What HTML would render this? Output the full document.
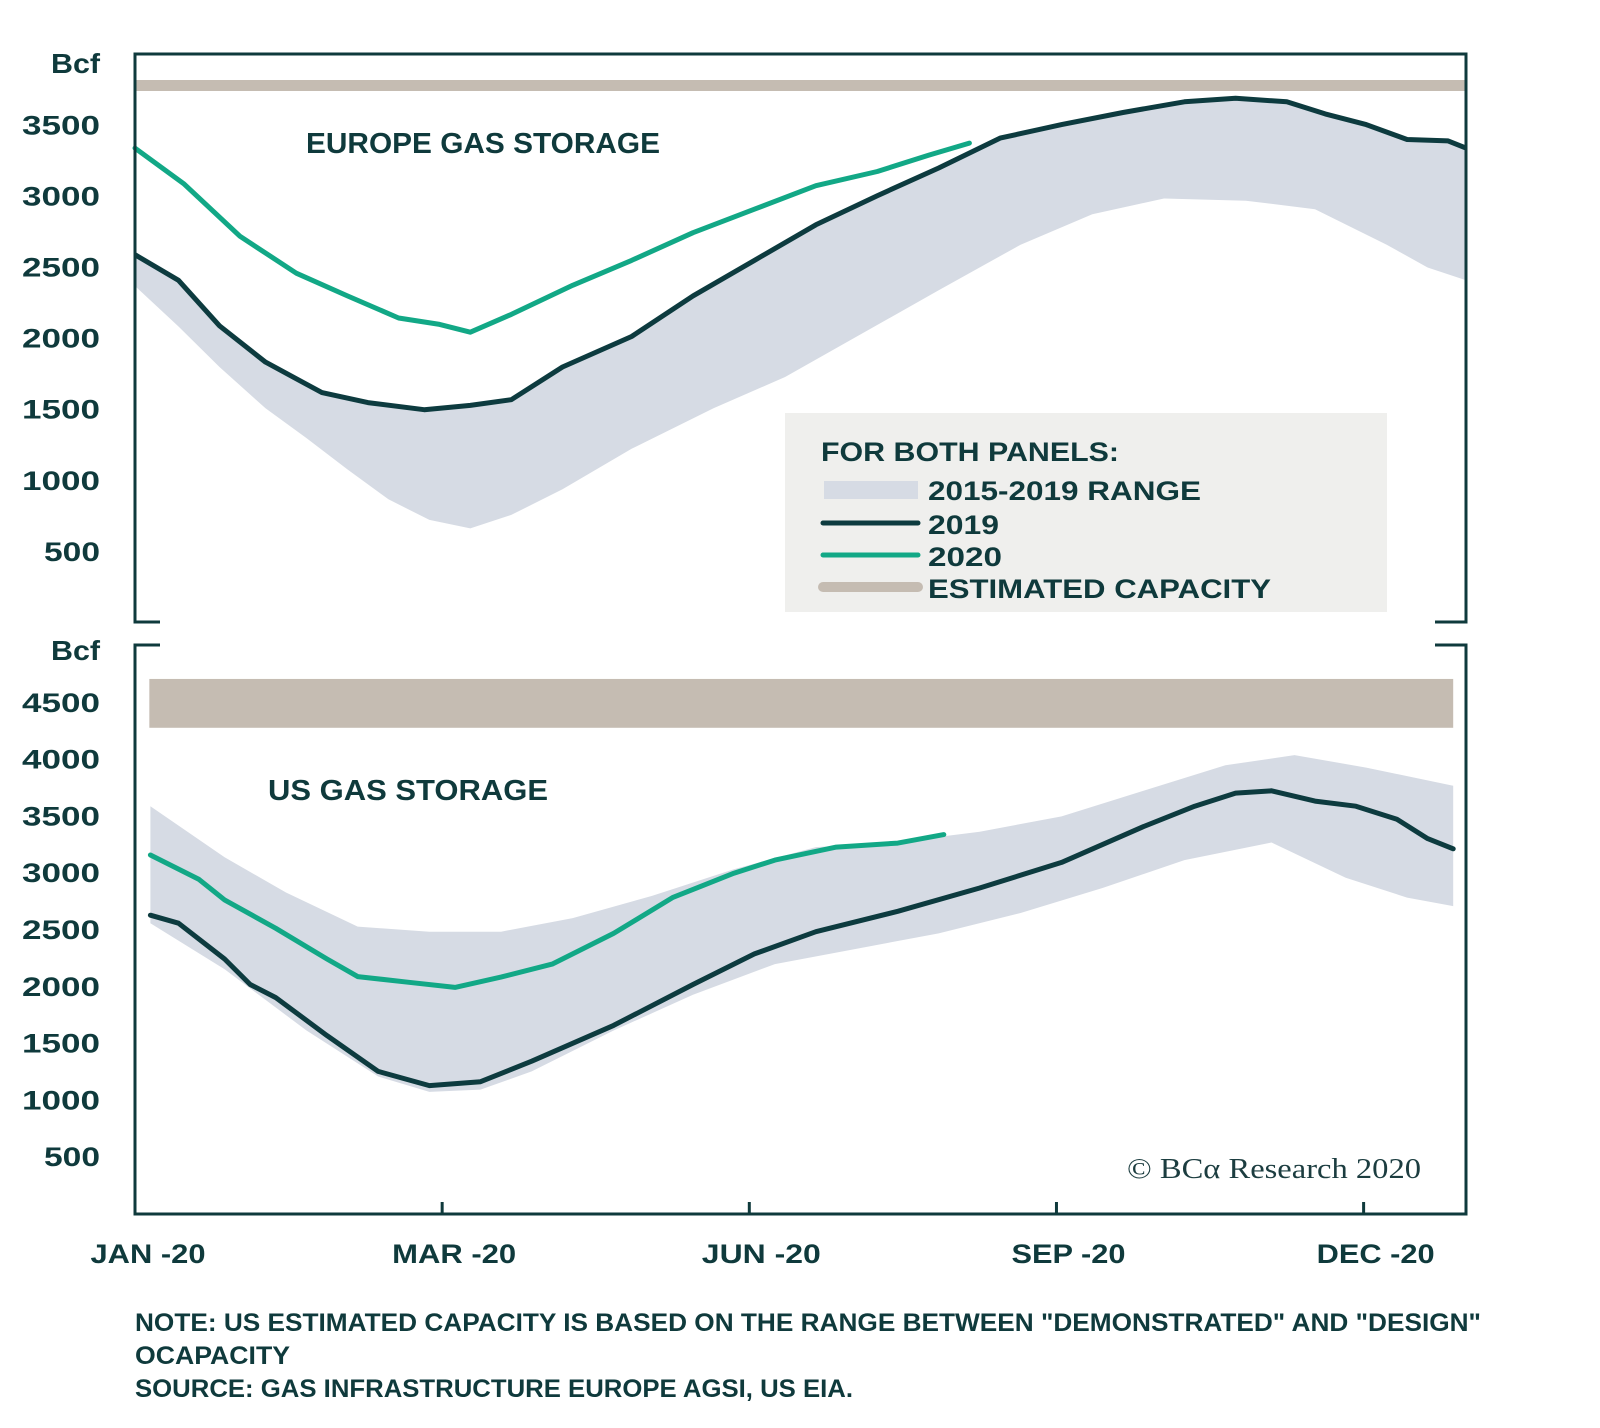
<!DOCTYPE html>
<html><head><meta charset="utf-8"><style>
html,body{margin:0;padding:0;background:#fff;}
svg{display:block;font-family:"Liberation Sans",sans-serif;}
</style></head><body>
<svg id="chart" width="1600" height="1428" viewBox="0 0 1600 1428" xmlns="http://www.w3.org/2000/svg">
<g id="gtop"></g>
<g id="gbot"></g>
<g>
<rect x="785" y="413" width="602" height="199" fill="#efefed"/>
<text x="821" y="461" font-size="27" font-weight="bold" fill="#0f3a3c" textLength="298" lengthAdjust="spacingAndGlyphs">FOR BOTH PANELS:</text>
<rect x="824" y="481" width="94" height="18" fill="#d6dbe4"/>
<text x="928" y="500" font-size="27" font-weight="bold" fill="#0f3a3c" textLength="273" lengthAdjust="spacingAndGlyphs">2015-2019 RANGE</text>
<line x1="823" y1="523" x2="918" y2="523" stroke="#0d3b3f" stroke-width="5" stroke-linecap="round"/>
<text x="928" y="534" font-size="27" font-weight="bold" fill="#0f3a3c" textLength="71" lengthAdjust="spacingAndGlyphs">2019</text>
<line x1="823" y1="555" x2="918" y2="555" stroke="#12a886" stroke-width="5" stroke-linecap="round"/>
<text x="928" y="566" font-size="27" font-weight="bold" fill="#0f3a3c" textLength="74" lengthAdjust="spacingAndGlyphs">2020</text>
<line x1="823" y1="587" x2="918" y2="587" stroke="#c5bcb2" stroke-width="10" stroke-linecap="round"/>
<text x="928" y="598" font-size="27" font-weight="bold" fill="#0f3a3c" textLength="343" lengthAdjust="spacingAndGlyphs">ESTIMATED CAPACITY</text>
</g>
<text x="1127" y="1178" font-size="29" fill="#1c3d40" font-family="Liberation Serif, serif" textLength="294" lengthAdjust="spacingAndGlyphs">© BCα Research 2020</text>
<text x="135" y="1331" font-size="25" font-weight="bold" fill="#0f3a3c" textLength="1346" lengthAdjust="spacingAndGlyphs">NOTE: US ESTIMATED CAPACITY IS BASED ON THE RANGE BETWEEN "DEMONSTRATED" AND "DESIGN"</text>
<text x="135" y="1364" font-size="25" font-weight="bold" fill="#0f3a3c" textLength="155" lengthAdjust="spacingAndGlyphs">OCAPACITY</text>
<text x="135" y="1397" font-size="25" font-weight="bold" fill="#0f3a3c" textLength="718" lengthAdjust="spacingAndGlyphs">SOURCE: GAS INFRASTRUCTURE EUROPE AGSI, US EIA.</text>
</svg>
<script>
// ---- Europe data (x in weeks of year, values in Bcf) ----
const euW2019 = [0,1.7,3.3,5.1,7.3,9.1,11.3,13.1,14.7,16.7,19.4,21.8,24.2,26.6,29.0,31.4,33.8,36.2,38.6,41.0,43.0,45.0,46.5,48.1,49.7,51.3,52];
const eu2019 = [2590,2410,2090,1835,1620,1550,1500,1530,1570,1800,2015,2300,2550,2800,3005,3200,3410,3505,3590,3665,3690,3665,3580,3505,3400,3390,3340];
const euWLow = [0,1.7,3.3,5.1,6.7,8.3,9.9,11.5,13.1,14.7,16.7,19.4,22.6,25.4,28.2,31.4,34.6,37.4,40.2,43.4,46.1,48.9,50.5,52];
const euLow = [2370,2085,1800,1510,1300,1080,870,725,665,760,940,1225,1510,1730,2015,2340,2660,2875,2985,2970,2910,2660,2500,2410];
const euW2020 = [0,1.9,4.1,6.3,8.3,10.3,11.9,13.1,14.7,17.1,19.4,21.8,24.2,26.6,29.0,31.0,32.6];
const eu2020 = [3340,3090,2720,2460,2300,2145,2100,2045,2170,2375,2550,2745,2910,3075,3175,3290,3375];
const euCapacity = [3780];
const euTicks = [500,1000,1500,2000,2500,3000,3500];
// ---- US data ----
const usW2019 = [0.6,1.7,3.5,4.5,5.5,7.5,9.5,11.5,13.5,15.5,18.7,21.8,24.2,26.6,29.8,33.0,36.2,39.4,41.4,43.0,44.4,46.1,47.7,49.3,50.5,51.5];
const us2019 = [2630,2560,2245,2020,1905,1570,1255,1130,1165,1345,1660,2020,2290,2485,2665,2870,3095,3410,3590,3705,3725,3635,3590,3475,3305,3215];
const usWUp = [0.6,3.5,5.9,8.7,11.5,14.3,17.1,20.2,23.4,26.6,29.8,33.0,36.2,39.4,42.6,45.3,48.1,51.5];
const usUp = [3590,3140,2830,2530,2485,2485,2605,2800,3035,3230,3275,3365,3500,3725,3950,4040,3930,3770];
const usWLow = [0.6,3.5,6.7,9.5,11.5,13.5,15.5,18.7,21.8,25.0,28.2,31.4,34.6,37.8,41.0,44.4,47.3,49.7,51.5];
const usLow = [2560,2155,1615,1210,1075,1095,1255,1615,1930,2200,2335,2470,2650,2870,3115,3270,2960,2785,2710];
const usW2020 = [0.6,2.5,3.5,5.5,7.5,8.7,10.7,12.5,14.3,16.3,18.7,21.0,23.4,25.0,27.4,29.8,31.6];
const us2020 = [3160,2945,2765,2515,2245,2090,2040,1995,2085,2200,2470,2785,3000,3115,3230,3265,3340];
const usCapacity = [4280,4710];
const usTicks = [500,1000,1500,2000,2500,3000,3500,4000,4500];
const xTickWeeks = [12,24,36,48];
const xTickLabels = ["MAR -20","JUN -20","SEP -20","DEC -20"];
const xLabelWidths = [124,119,114,118];

const NS="http://www.w3.org/2000/svg";
const X0=135,X1=1466;
function xs(w){return X0+(X1-X0)*w/52;}
function yEu(v){return 623-v*71.1/500;}
function yUs(v){return 1214-v*56.8/500;}
function mk(parent,tag,attrs){const e=document.createElementNS(NS,tag);for(const k in attrs)e.setAttribute(k,attrs[k]);parent.appendChild(e);return e;}
function pts(ws,vs,ys){return ws.map((w,i)=>xs(w).toFixed(1)+","+ys(vs[i]).toFixed(1));}

const gTop=document.getElementById('gtop'), gBot=document.getElementById('gbot');
const C="#0f3a3c";
function tickLabel(g,v,y,name){
 const t=mk(g,'text',{x:100,y:y+9,'text-anchor':'end','font-size':27,'font-weight':'bold',fill:C,textLength:(v>=1000?78:56),lengthAdjust:'spacingAndGlyphs'});
 t.textContent=v;
 
 
}

let p=mk(gTop,'polygon',{points:pts(euW2019,eu2019,yEu).concat(pts(euWLow,euLow,yEu).reverse()).join(' '),fill:'#d6dbe4'});


let cap=mk(gTop,'line',{x1:X0,x2:X1,y1:yEu(euCapacity[0]),y2:yEu(euCapacity[0]),stroke:'#c5bcb2','stroke-width':11});


let l=mk(gTop,'polyline',{points:pts(euW2019,eu2019,yEu).join(' '),fill:'none',stroke:'#0d3b3f','stroke-width':5,'stroke-linejoin':'round'});


l=mk(gTop,'polyline',{points:pts(euW2020,eu2020,yEu).join(' '),fill:'none',stroke:'#12a886','stroke-width':5,'stroke-linejoin':'round','stroke-linecap':'round'});


let fr=mk(gTop,'path',{d:`M160,622 H${X0} V54 H${X1} V622 H1435`,fill:'none',stroke:C,'stroke-width':3});


euTicks.forEach(v=>tickLabel(gTop,v,yEu(v),'europe-y-tick-'+v));
let t=mk(gTop,'text',{x:100,y:73,'text-anchor':'end','font-size':28,'font-weight':'bold',fill:C,textLength:49,lengthAdjust:'spacingAndGlyphs'});t.textContent='Bcf';


t=mk(gTop,'text',{x:306,y:153,'font-size':29,'font-weight':'bold',fill:C,textLength:354,lengthAdjust:'spacingAndGlyphs'});t.textContent='EUROPE GAS STORAGE';



p=mk(gBot,'polygon',{points:pts(usWUp,usUp,yUs).concat(pts(usWLow,usLow,yUs).reverse()).join(' '),fill:'#d6dbe4'});


cap=mk(gBot,'rect',{x:xs(0.56),y:yUs(usCapacity[1]),width:xs(51.5)-xs(0.56),height:yUs(usCapacity[0])-yUs(usCapacity[1]),fill:'#c5bcb2'});


l=mk(gBot,'polyline',{points:pts(usW2019,us2019,yUs).join(' '),fill:'none',stroke:'#0d3b3f','stroke-width':5,'stroke-linejoin':'round','stroke-linecap':'round'});


l=mk(gBot,'polyline',{points:pts(usW2020,us2020,yUs).join(' '),fill:'none',stroke:'#12a886','stroke-width':5,'stroke-linejoin':'round','stroke-linecap':'round'});


fr=mk(gBot,'path',{d:`M160,645 H${X0} V1214 H${X1} V645 H1435`,fill:'none',stroke:C,'stroke-width':3});


usTicks.forEach(v=>tickLabel(gBot,v,yUs(v),'us-y-tick-'+v));
t=mk(gBot,'text',{x:100,y:660,'text-anchor':'end','font-size':28,'font-weight':'bold',fill:C,textLength:49,lengthAdjust:'spacingAndGlyphs'});t.textContent='Bcf';


t=mk(gBot,'text',{x:268,y:800,'font-size':29,'font-weight':'bold',fill:C,textLength:280,lengthAdjust:'spacingAndGlyphs'});t.textContent='US  GAS STORAGE';



t=mk(gBot,'text',{x:148,y:1263,'text-anchor':'middle','font-size':27,'font-weight':'bold',fill:C,textLength:115,lengthAdjust:'spacingAndGlyphs'});t.textContent='JAN -20';


xTickWeeks.forEach((w,i)=>{
 const tk=mk(gBot,'line',{x1:xs(w),x2:xs(w),y1:1214,y2:1202,stroke:C,'stroke-width':3});
 
 
 const tx=mk(gBot,'text',{x:xs(w)+12,y:1263,'text-anchor':'middle','font-size':27,'font-weight':'bold',fill:C,textLength:xLabelWidths[i],lengthAdjust:'spacingAndGlyphs'});tx.textContent=xTickLabels[i];
 
 
});
</script>
</body></html>
